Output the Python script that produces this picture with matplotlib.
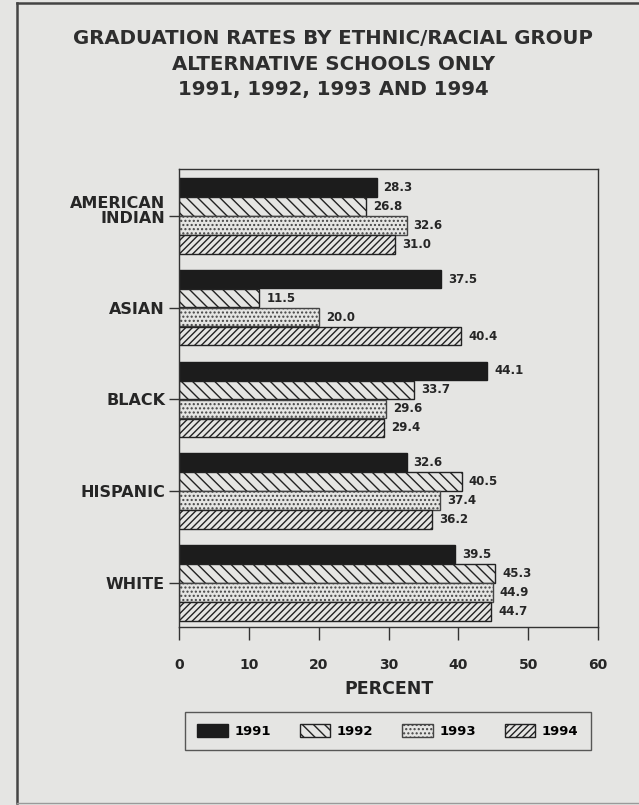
import matplotlib
matplotlib.use("Agg")
import matplotlib.pyplot as plt
import numpy as np
from matplotlib.patches import Patch
from matplotlib.lines import Line2D
from matplotlib.transforms import ScaledTranslation

categories = ["AMERICAN\nINDIAN", "ASIAN", "BLACK", "HISPANIC", "WHITE"]
years = ["1991", "1992", "1993", "1994"]
v1991 = [28.3, 37.5, 44.1, 32.6, 39.5]
v1992 = [26.8, 11.5, 33.7, 40.5, 45.3]
v1993 = [32.6, 20.0, 29.6, 37.4, 44.9]
v1994 = [31.0, 40.4, 29.4, 36.2, 44.7]
series = [v1991, v1992, v1993, v1994]
xticks = [0, 10, 20, 30, 40, 50, 60]

bg = "#e5e5e3"
ink = "#262626"
plt.rcParams["hatch.linewidth"] = 1.0
plt.rcParams["font.family"] = ["DejaVu Sans"]

fig = plt.figure(figsize=(6.39, 8.05), dpi=100, facecolor=bg)
W, H = 639, 805
ax = fig.add_axes([179 / W, 1 - 627 / H, (598 - 179) / W, (627 - 169) / H])
ax.set_facecolor(bg)

# page border (left, top, faint bottom)
fig.lines.append(Line2D([17 / W, 17 / W], [1 - 3 / H, 1 - 803 / H], transform=fig.transFigure,
                        color="#444444", linewidth=1.8))
fig.lines.append(Line2D([17 / W, 1.0], [1 - 3 / H, 1 - 3 / H], transform=fig.transFigure,
                        color="#444444", linewidth=1.8))
fig.lines.append(Line2D([17 / W, 1.0], [1 - 803 / H, 1 - 803 / H], transform=fig.transFigure,
                        color="#9a9a9a", linewidth=1.0))

styles = [dict(color="#1c1c1c", hatch=None, edgecolor="#1c1c1c"),
          dict(color=bg, hatch="\\\\\\", edgecolor="#222222"),
          dict(color=bg, hatch="....", edgecolor="#444444"),
          dict(color=bg, hatch="/////", edgecolor="#222222")]

y = np.arange(len(categories))
h = 0.207
offsets = [-1.5 * h, -0.5 * h, 0.5 * h, 1.5 * h]
for vals, off, st in zip(series, offsets, styles):
    ax.barh(y + off, vals, height=h * 0.97, color=st["color"], hatch=st["hatch"],
            edgecolor=st["edgecolor"], linewidth=1.0)
    for yi, v in zip(y, vals):
        ax.text(v + 1.0, yi + off, f"{v:.1f}", va="center", ha="left",
                fontsize=8.5, fontweight="bold", color=ink)

ax.set_xlim(0, 60)
ax.set_ylim(4.48, -0.51)
ax.set_xticks(xticks)
ax.set_xticklabels([str(t) for t in xticks], fontsize=10, fontweight="bold", color=ink)
ax.set_yticks(y)
ax.set_yticklabels(categories, fontsize=11.5, fontweight="bold", color=ink, linespacing=0.95)
ax.tick_params(axis="x", length=9, width=1, pad=13, direction="out", color="#333333")
ax.tick_params(axis="y", length=7, width=1, pad=3, direction="out", color="#333333")
first = ax.get_yticklabels()[0]
first.set_transform(first.get_transform() + ScaledTranslation(0, 6 / 100, fig.dpi_scale_trans))
for sp in ax.spines.values():
    sp.set_linewidth(1)
    sp.set_color("#333333")
ax.set_xlabel("PERCENT", fontsize=12.5, fontweight="bold", color=ink, labelpad=6)

titles = ["GRADUATION RATES BY ETHNIC/RACIAL GROUP", "ALTERNATIVE SCHOOLS ONLY",
          "1991, 1992, 1993 AND 1994"]
for i, t in enumerate(titles):
    fig.text(333 / W, 1 - (39 + 25 * i) / H, t, ha="center", va="center",
             fontsize=14.2, color="#2e2e2e", fontweight="bold")

handles = [Patch(facecolor=st["color"], hatch=st["hatch"], edgecolor=st["edgecolor"], linewidth=1.0)
           for st in styles]
leg = fig.legend(handles, years, loc="center", bbox_to_anchor=(388 / W, 1 - 731 / H), ncol=4,
                 frameon=True, fancybox=False, edgecolor="#333333", facecolor=bg,
                 prop=dict(size=9.5, weight="bold"), handlelength=2.3, handleheight=1.1,
                 columnspacing=2.2, borderpad=0.95, handletextpad=0.5)
leg.get_frame().set_linewidth(1)

fig.savefig("out.png", dpi=100, facecolor=bg)
